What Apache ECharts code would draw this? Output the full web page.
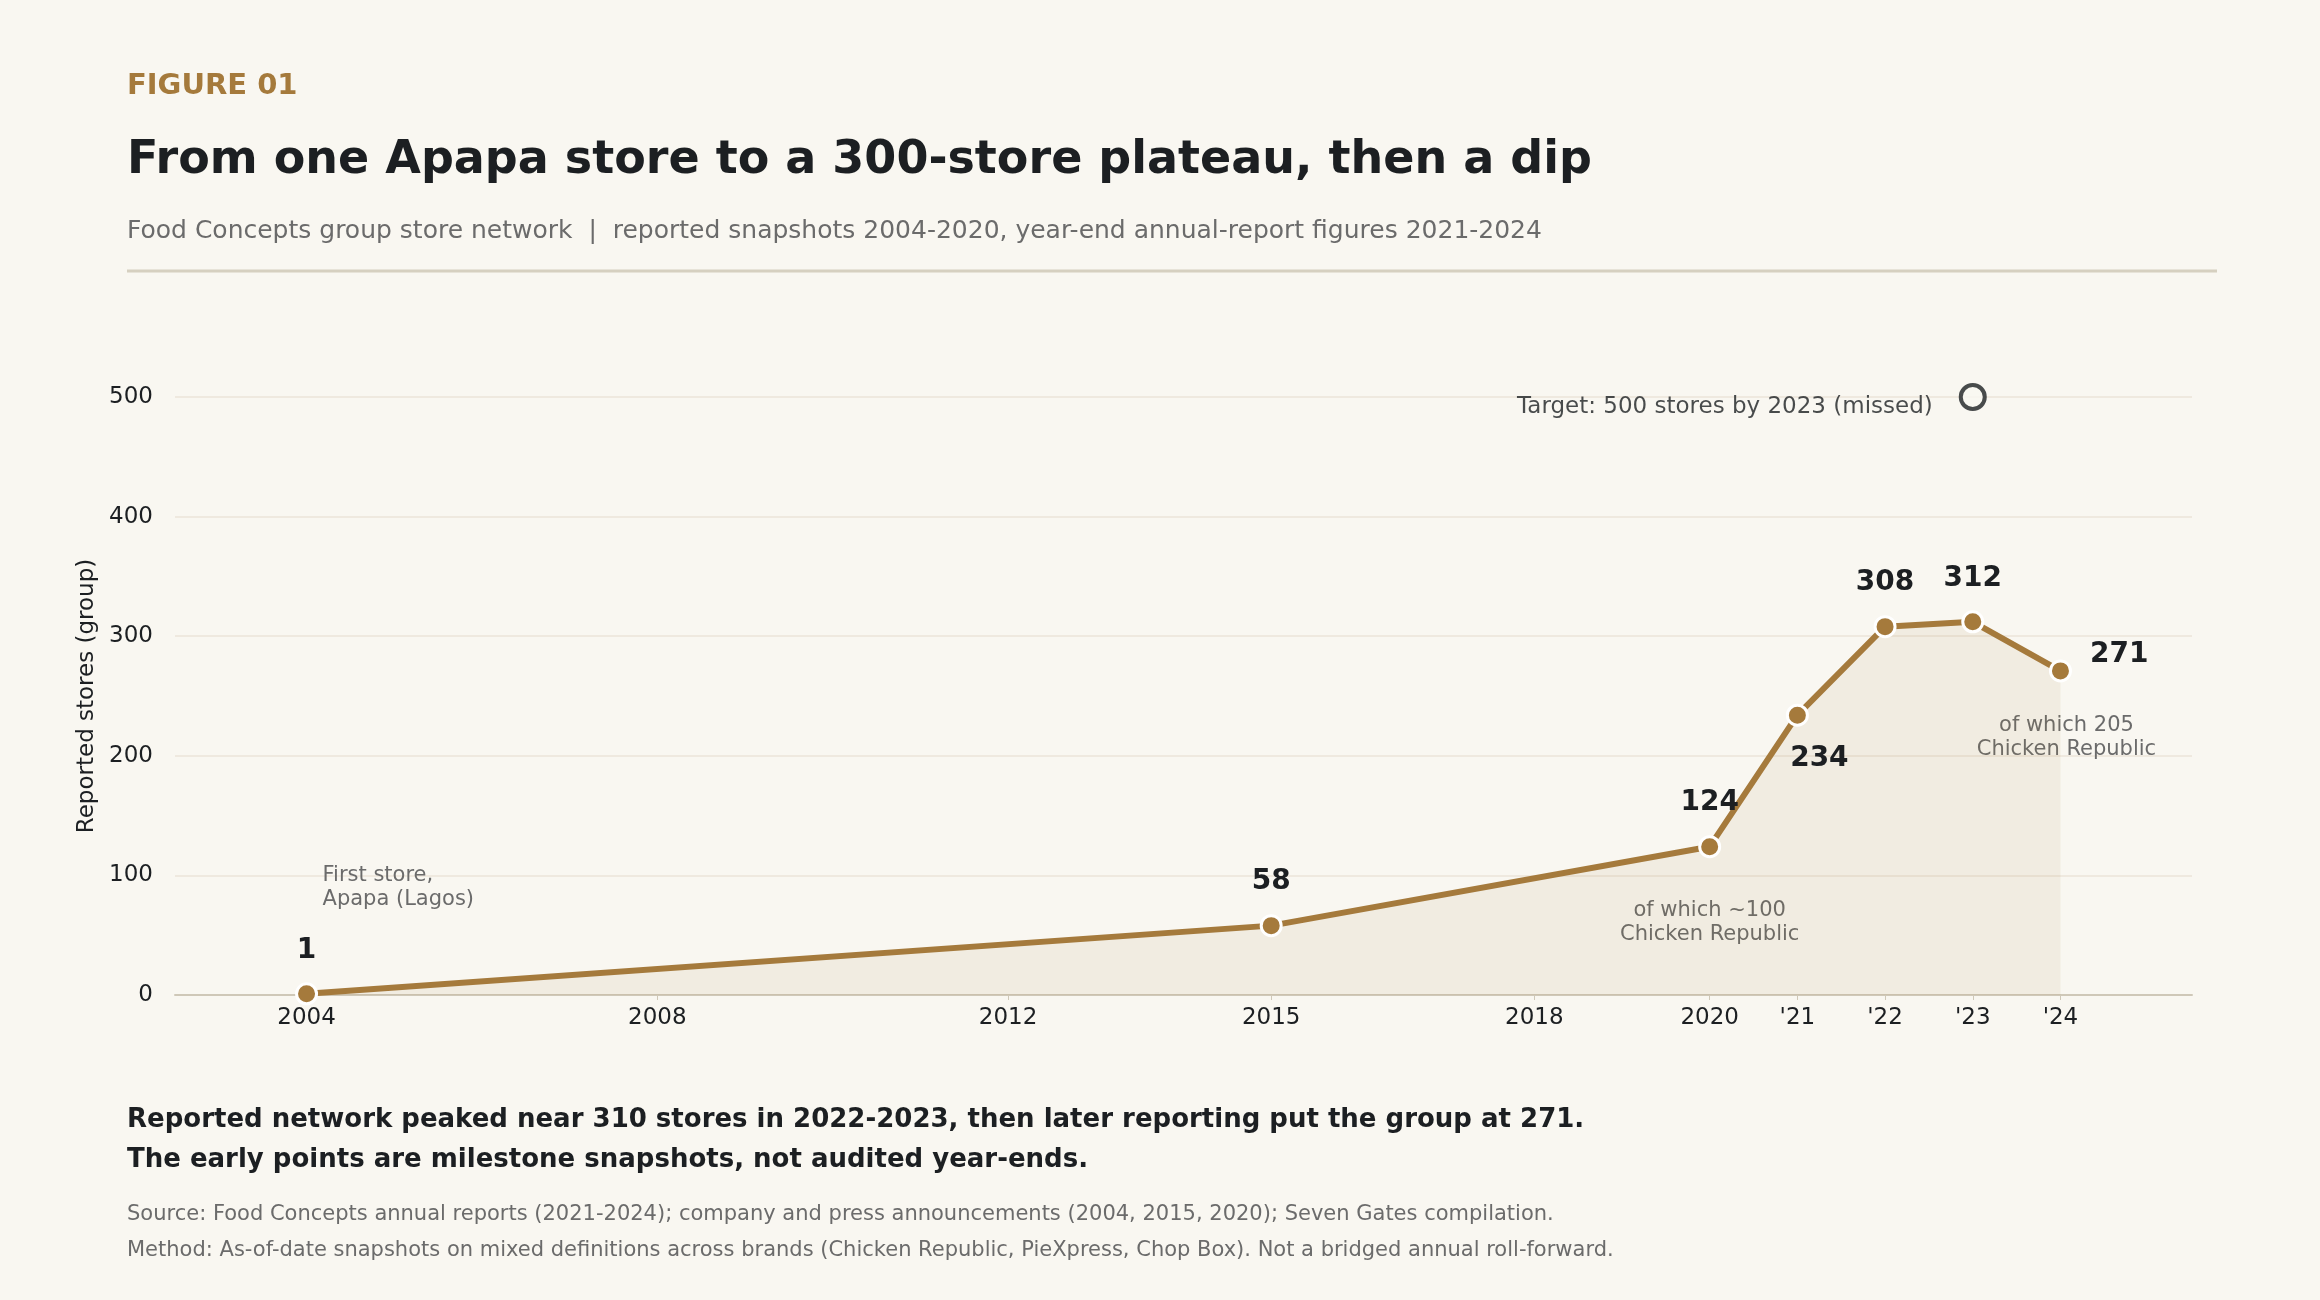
<!DOCTYPE html>
<html>
<head>
<meta charset="utf-8">
<script src="https://cdn.jsdelivr.net/npm/echarts@6/dist/echarts.min.js"></script>
<style>
  html, body { margin: 0; padding: 0; background: #f9f7f1; }
  #chart { width: 2320px; height: 1300px; }
</style>
</head>
<body>
<div id="chart"></div>
<script>
var years = [2004, 2015, 2020, 2021, 2022, 2023, 2024];
var stores = [1, 58, 124, 234, 308, 312, 271];
var labelPos = ['top', 'top', 'top', 'bottomRight', 'top', 'top', 'right'];
var tickYears = [2004, 2008, 2012, 2015, 2018, 2020, 2021, 2022, 2023, 2024];
var tickLabels = ['2004', '2008', '2012', '2015', '2018', '2020', "'21", "'22", "'23", "'24"];
var target = [2023, 500];

var FONT = 'DejaVu Sans';
var GOLD = '#a57a3c';
var chart = echarts.init(document.getElementById('chart'));

function pointData() {
    return years.map(function (y, i) {
        var p = labelPos[i];
        var lbl = { position: p === 'bottomRight' ? 'bottom' : p, distance: 18 };
        if (p === 'bottomRight') { lbl.offset = [22, 0]; }
        if (p === 'right') { lbl.offset = [0, -16]; }
        return { value: [y, stores[i]], label: lbl };
    });
}

var option = {
    backgroundColor: '#f9f7f1',
    textStyle: { fontFamily: FONT },
    grid: { left: 175, right: 128, top: 397, bottom: 305 },
    xAxis: {
        type: 'value', min: 2002.5, max: 2025.5,
        splitLine: { show: false },
        axisLine: { lineStyle: { color: '#cfc8b8', width: 2 } },
        axisTick: { show: true, customValues: tickYears, lineStyle: { color: '#cfc8b8' } },
        axisLabel: {
            customValues: tickYears, fontSize: 23, color: '#1c1f22', margin: 12,
            formatter: function (v) { return tickLabels[tickYears.indexOf(v)]; }
        }
    },
    yAxis: {
        type: 'value', min: 0, max: 500, interval: 100,
        name: 'Reported stores (group)', nameLocation: 'middle', nameGap: 70,
        nameTextStyle: { fontSize: 23, color: '#1c1f22' },
        axisLine: { show: false }, axisTick: { show: false },
        axisLabel: { fontSize: 23, color: '#1c1f22', margin: 22 },
        splitLine: { lineStyle: { color: '#ebe5d8', width: 1.5 } }
    },
    series: [{
        type: 'line', data: pointData(),
        lineStyle: { color: GOLD, width: 6 },
        areaStyle: { color: 'rgba(165,122,60,0.12)' },
        symbol: 'circle', symbolSize: 20,
        itemStyle: { color: GOLD, borderColor: '#ffffff', borderWidth: 3 },
        label: { show: true, fontSize: 28, fontWeight: 'bold', color: '#1c1f22',
                 formatter: function (p) { return p.value[1]; } },
        z: 3
    }, {
        type: 'scatter', data: [target],
        symbol: 'circle', symbolSize: 24,
        itemStyle: { color: '#f9f7f1', borderColor: '#1c1f22', borderWidth: 4 },
        label: { show: true, position: 'left', distance: 26, offset: [0, 10],
                 fontSize: 23, color: '#1c1f22', formatter: 'Target: 500 stores by 2023 (missed)' }
    }]
};
chart.setOption(option);

function px(x, y) { return chart.convertToPixel({ gridIndex: 0 }, [x, y]); }
var a1 = px(2004, 100), a2 = px(2020, 0), a3 = px(2024, 200);
var note = { fontSize: 21, fill: '#6b6b6b', fontFamily: FONT, lineHeight: 24 };

chart.setOption({
    graphic: [
        { type: 'text', left: 127, top: 72, style: { text: 'FIGURE 01', fontSize: 29, fontWeight: 'bold', fill: GOLD, fontFamily: FONT } },
        { type: 'text', left: 127, top: 138, style: { text: 'From one Apapa store to a 300-store plateau, then a dip', fontSize: 46, fontWeight: 'bold', fill: '#1c1f22', fontFamily: FONT } },
        { type: 'text', left: 127, top: 219, style: { text: 'Food Concepts group store network  |  reported snapshots 2004-2020, year-end annual-report figures 2021-2024', fontSize: 25, fill: '#6b6b6b', fontFamily: FONT } },
        { type: 'line', shape: { x1: 127, y1: 271, x2: 2217, y2: 271 }, style: { stroke: '#d6d0c0', lineWidth: 3 } },
        { type: 'text', x: a1[0] + 16, y: a1[1] - 12, style: Object.assign({ text: 'First store,\nApapa (Lagos)' }, note) },
        { type: 'text', x: a2[0], y: a2[1] - 96, style: Object.assign({ text: 'of which ~100\nChicken Republic', align: 'center' }, note) },
        { type: 'text', x: a3[0] + 6, y: a3[1] - 42, style: Object.assign({ text: 'of which 205\nChicken Republic', align: 'center' }, note) },
        { type: 'text', left: 127, top: 1100, style: { text: 'Reported network peaked near 310 stores in 2022-2023, then later reporting put the group at 271.\nThe early points are milestone snapshots, not audited year-ends.', fontSize: 26, lineHeight: 40, fontWeight: 'bold', fill: '#1c1f22', fontFamily: FONT } },
        { type: 'text', left: 127, top: 1197, style: { text: 'Source: Food Concepts annual reports (2021-2024); company and press announcements (2004, 2015, 2020); Seven Gates compilation.\nMethod: As-of-date snapshots on mixed definitions across brands (Chicken Republic, PieXpress, Chop Box). Not a bridged annual roll-forward.', fontSize: 21, lineHeight: 36, fill: '#6b6b6b', fontFamily: FONT } }
    ]
});
</script>
</body>
</html>
